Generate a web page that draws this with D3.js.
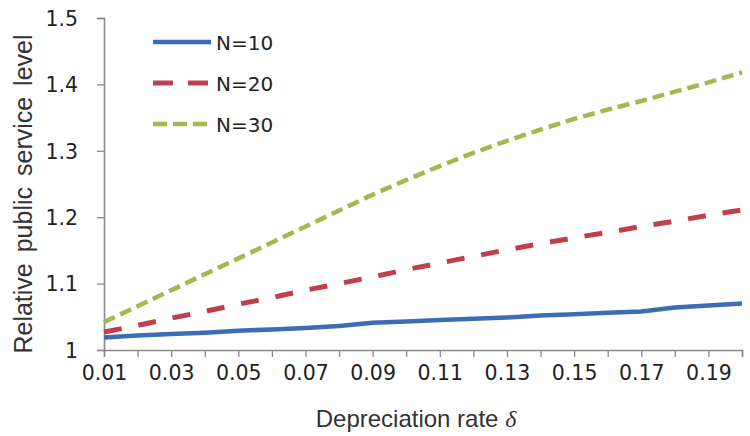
<!DOCTYPE html>
<html>
<head>
<meta charset="utf-8">
<script src="https://d3js.org/d3.v7.min.js"></script>
<style>
  body { margin: 0; background: #fff; }
  svg { display: block; }
</style>
</head>
<body>
<svg id="chart" width="750" height="436"></svg>
<script>
// depreciation rate categories
const rates = ["0.01","0.02","0.03","0.04","0.05","0.06","0.07","0.08","0.09","0.10",
               "0.11","0.12","0.13","0.14","0.15","0.16","0.17","0.18","0.19","0.20"];
const n10 = [1.019,1.022,1.024,1.026,1.029,1.031,1.033,1.036,1.041,1.043,
             1.045,1.047,1.049,1.052,1.054,1.056,1.058,1.064,1.067,1.070];
const n20 = [1.027,1.037,1.048,1.058,1.069,1.079,1.090,1.100,1.110,1.121,
             1.131,1.141,1.151,1.160,1.169,1.177,1.186,1.194,1.203,1.211];
const n30 = [1.042,1.066,1.090,1.114,1.138,1.162,1.186,1.210,1.234,1.256,
             1.277,1.297,1.315,1.332,1.348,1.362,1.375,1.389,1.403,1.418];
const yTicks = [1, 1.1, 1.2, 1.3, 1.4, 1.5];
const seriesNames = ["N=10","N=20","N=30"];

const series = [
  { name: seriesNames[0], values: n10, color: "#3c6cb4", dash: null, width: 4.5 },
  { name: seriesNames[1], values: n20, color: "#bf3f4c", dash: "18,17", width: 5 },
  { name: seriesNames[2], values: n30, color: "#a3b84f", dash: "12,6", width: 4.5 }
];

const svg = d3.select('#chart');
const plot = { left: 104, right: 742, top: 18, bottom: 350 };

const xScale = d3.scalePoint().domain(rates).range([plot.left, plot.right]);
const yScale = d3.scaleLinear().domain([1, 1.5]).range([plot.bottom, plot.top]);

// axes
const xAxis = svg.append('g')
    .attr('transform', `translate(0,${plot.bottom})`)
    .call(d3.axisBottom(xScale)
          .tickSize(7)
          .tickPadding(8)
          .tickFormat((d, i) => i % 2 === 0 ? d : ''));
const yAxis = svg.append('g')
    .attr('transform', `translate(${plot.left},0)`)
    .call(d3.axisLeft(yScale)
          .tickValues(yTicks)
          .tickSize(7)
          .tickPadding(19)
          .tickFormat(d => d === 1 ? '1' : d.toFixed(1)));

[xAxis, yAxis].forEach(function(a) {
  a.select('.domain').attr('stroke', '#8a8a8a').attr('stroke-width', 1.6);
  a.selectAll('.tick line').attr('stroke', '#8a8a8a').attr('stroke-width', 1.3);
  a.selectAll('.tick text')
    .style('font-family', '"DejaVu Sans", Verdana, sans-serif')
    .style('font-size', '20.5px')
    .attr('fill', '#222');
});
yAxis.selectAll('.tick text').attr('dy', '0.36em');

// lines
const line = d3.line()
    .x((d, i) => xScale(rates[i]))
    .y(d => yScale(d));

series.forEach(function(s) {
  svg.append('path')
    .datum(s.values)
    .attr('fill', 'none')
    .attr('stroke', s.color)
    .attr('stroke-width', s.width)
    .attr('stroke-dasharray', s.dash)
    .attr('d', line);
});

// legend
const legend = svg.append('g');
series.forEach(function(s, i) {
  const ly = 42 + i * 41;
  legend.append('line')
    .attr('x1', 153).attr('x2', 211)
    .attr('y1', ly).attr('y2', ly)
    .attr('stroke', s.color)
    .attr('stroke-width', s.width)
    .attr('stroke-dasharray', i === 1 ? '20,15' : (i === 2 ? '14,6' : null));
  legend.append('text')
    .attr('x', 216)
    .attr('y', ly + 7.5)
    .style('font-family', '"DejaVu Sans", Verdana, sans-serif')
    .style('font-size', '20px')
    .attr('fill', '#222')
    .text(s.name);
});

// axis titles
svg.append('text')
    .attr('transform', `translate(32,194) rotate(-90)`)
    .attr('text-anchor', 'middle')
    .style('font-family', '"Liberation Sans", Arial, sans-serif')
    .style('font-size', '25px')
    .style('word-spacing', '4px')
    .attr('fill', '#333')
    .text('Relative public service level');

const xt = svg.append('text')
    .attr('x', 416)
    .attr('y', 427)
    .attr('text-anchor', 'middle')
    .style('font-family', '"Liberation Sans", Arial, sans-serif')
    .style('font-size', '24px')
    .attr('fill', '#333');
xt.append('tspan').text('Depreciation rate ');
xt.append('tspan')
    .style('font-family', '"Liberation Serif", "Times New Roman", serif')
    .style('font-style', 'italic')
    .text('δ');
</script>
</body>
</html>
